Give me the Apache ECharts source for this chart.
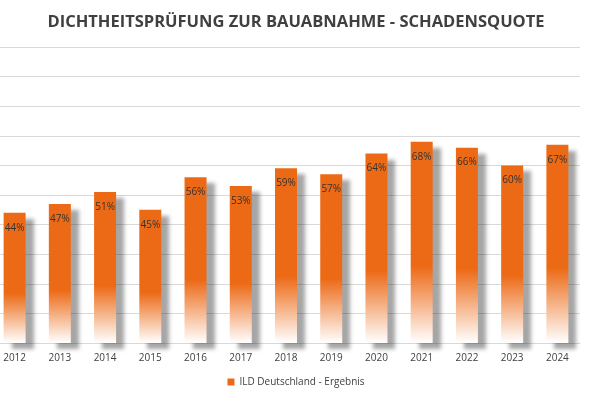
<!DOCTYPE html>
<html>
<head>
<meta charset="utf-8">
<title>Schadensquote</title>
<script src="https://cdn.jsdelivr.net/npm/echarts@6/dist/echarts.min.js"></script>
</head>
<body style="margin:0;overflow:hidden">
<div id="container" style="width:608px;height:400px;margin-left:-8px"></div>
<script>
var years = ['2012', '2013', '2014', '2015', '2016', '2017', '2018', '2019', '2020', '2021', '2022', '2023', '2024'];
var quote = [44, 47, 51, 45, 56, 53, 59, 57, 64, 68, 66, 60, 67];

var chart = echarts.init(document.getElementById('container'));

var fade = new echarts.graphic.LinearGradient(0, 0, 0, 1, [
    { offset: 0, color: '#ec6a16' },
    { offset: 0.62, color: '#ec6a16' },
    { offset: 1, color: '#ffffff' }
]);

chart.setOption({
    animation: false,
    textStyle: { fontFamily: 'Open Sans' },
    title: {
        text: 'DICHTHEITSPRÜFUNG ZUR BAUABNAHME - SCHADENSQUOTE',
        left: 'center',
        top: 9,
        textStyle: { fontSize: 16.5, fontWeight: 'bold', color: '#404040' }
    },
    legend: {
        bottom: 8,
        itemWidth: 7,
        itemHeight: 7,
        textStyle: { fontSize: 10, color: '#404040' },
        data: [{ name: 'ILD Deutschland - Ergebnis', icon: 'rect', itemStyle: { color: '#ec6a16' } }]
    },
    grid: { left: 0, right: 20, top: 47, bottom: 57 },
    xAxis: {
        type: 'category',
        data: years,
        axisTick: { show: false },
        axisLine: { lineStyle: { color: '#d9d9d9' } },
        axisLabel: { color: '#404040', fontSize: 10, margin: 10 }
    },
    yAxis: {
        type: 'value',
        min: 0,
        max: 100,
        interval: 10,
        axisLabel: { show: false },
        splitLine: { lineStyle: { color: '#d9d9d9' } }
    },
    series: [{
        name: 'ILD Deutschland - Ergebnis',
        type: 'bar',
        data: quote,
        barWidth: 22,
        itemStyle: {
            color: fade,
            shadowColor: 'rgba(0,0,0,0.35)',
            shadowBlur: 4,
            shadowOffsetX: 8,
            shadowOffsetY: 6
        },
        label: {
            show: true,
            position: 'insideTop',
            formatter: '{c}%',
            fontSize: 10,
            color: '#333',
            offset: [0, 5]
        }
    }]
});
</script>
</body>
</html>
